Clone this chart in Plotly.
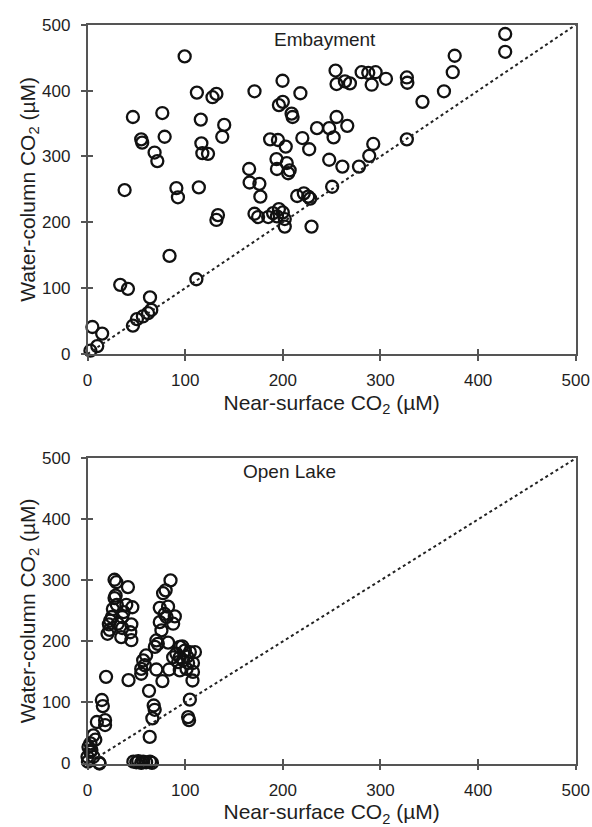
import plotly.graph_objects as go

# ---------------- data ----------------
emb_x = [3, 10, 5, 15, 46.5, 50.6, 56.7, 62, 65.3, 64, 33.5, 41.4, 111.5, 84,
         38, 91, 92.6, 114, 68.7, 71.5, 55, 56, 79, 46.5, 76.6, 99.5, 112, 128,
         132, 116, 116.6, 117.6, 123.4, 140, 138, 133.6, 132, 171, 199.7, 218,
         196, 200, 209, 210, 235, 247.5, 255, 266, 252, 187, 195, 203, 220, 227,
         193.5, 204, 194, 205.5, 207, 165.5, 166, 176, 177, 247.5, 261, 278,
         288.5, 250.5, 214.7, 221.5, 226, 228, 171, 174.7, 185, 190, 196, 200,
         194, 202, 202, 229.4, 254, 255, 263.6, 268.7, 280.7, 287.5, 295, 291,
         305.6, 327, 327.5, 343, 365, 374, 376, 427.7, 427.7, 327, 292.6]
emb_y = [5, 12, 41, 31, 43, 53, 57, 62, 67, 86, 105, 99, 113.5, 149,
         249, 252, 238, 253, 306, 293, 326, 321, 330, 360, 366, 452, 397, 390,
         395, 356, 320, 305, 304, 348, 330, 211, 203.6, 399, 415, 396,
         378, 383, 365, 360, 343, 343, 360, 346.5, 329, 326, 325, 315, 328, 311,
         296, 290, 281, 274.5, 279, 281, 260.5, 258.4, 239, 295, 284.6, 284.6,
         301, 254, 240, 244, 239, 236, 213, 208, 208, 214, 220, 215,
         209, 205, 193.5, 193.5, 430.5, 410, 414, 411, 428, 427, 428, 409,
         418, 420, 412, 383, 399, 428, 453, 486, 459, 326, 319]

open_x = [27.7, 29.5, 41.4, 28.8, 27.7, 26, 39.7, 45.9, 37, 35.6, 23.3, 21.9,
          20.5, 22.6, 44.9, 43.8, 34.6, 44.9, 31, 35.6, 25, 30,
          19, 42, 14.7, 15.7, 9.6, 18, 18, 6, 8, 1, 2.8, 0, 12.3, 6, 0.5, 4, 3,
          47, 50, 52, 55, 57, 60, 64, 66, 12,
          85, 80, 77.4, 74, 82.5, 79, 81, 89.4, 87.7, 74, 75.7, 70.5, 72, 69,
          82.5, 60, 57, 58.6, 55, 55, 70.5, 83.6, 76.7, 63, 67.8, 68.8, 66.4, 63.7,
          94.5, 99.7, 104.8, 110, 91, 94.5, 98, 103, 108, 92.8, 87.7, 101.4, 108,
          94.5, 107.5, 104.8, 103, 104, 97, 102]
open_y = [301, 297, 289, 275, 271, 253, 260, 256, 248, 240, 234, 228,
          212.5, 219, 228, 215, 207, 202, 229, 222, 240, 260,
          142, 136.5, 104, 94, 68, 71, 63, 46, 39, 27, 19, 11, 0, 11, 3, 22, 33,
          3, 2, 4, 1, 3, 2, 3, 1, 1,
          300, 283.7, 279, 255, 257, 245, 240, 241, 229, 231.6, 218, 201.6, 196, 191,
          198, 177, 169, 161, 155, 147, 154, 154, 135, 119, 95, 88, 74, 43.6,
          191, 185, 182.6, 182.6, 180, 174, 169, 164.6, 164.6, 166, 174, 155, 150,
          152.6, 136, 104.6, 76, 71, 192, 175]

one_to_one = [0, 500]
tick_vals = [0, 100, 200, 300, 400, 500]
tick_text = ["0", "100", "200", "300", "400", "500"]
panel_titles = ["Embayment", "Open Lake"]
x_title = "Near-surface CO<sub>2</sub> (µM)"
y_title = "Water-column CO<sub>2</sub> (µM)"

# ---------------- style ----------------
FONT = "Liberation Sans, Arial, sans-serif"
AX_COLOR = "#555555"
TXT_COLOR = "#1e1e1e"
W, H = 592, 827
xdom = [87.5 / W, 575.8 / W]
ydom_top = [1 - 354 / H, 1 - 24.8 / H]
ydom_bot = [1 - 763.5 / H, 1 - 458.3 / H]

marker = dict(symbol="circle-open", size=12, color="#111111", line=dict(width=2.3))

fig = go.Figure()

# 1:1 lines on overlay axes (these overlay axes also draw the inside half of the crossing ticks)
fig.add_trace(go.Scatter(x=one_to_one, y=one_to_one, mode="lines",
                         line=dict(color="#222222", width=2, dash="dot"),
                         xaxis="x3", yaxis="y3", showlegend=False, hoverinfo="skip"))
fig.add_trace(go.Scatter(x=one_to_one, y=one_to_one, mode="lines",
                         line=dict(color="#222222", width=2, dash="dot"),
                         xaxis="x4", yaxis="y4", showlegend=False, hoverinfo="skip"))

fig.add_trace(go.Scatter(x=emb_x, y=emb_y, mode="markers", marker=marker,
                         xaxis="x", yaxis="y", cliponaxis=False, showlegend=False))
fig.add_trace(go.Scatter(x=open_x, y=open_y, mode="markers", marker=marker,
                         xaxis="x2", yaxis="y2", cliponaxis=False, showlegend=False))


def main_x(anchor, dom):
    return dict(domain=dom, anchor=anchor, range=[0, 500], tickvals=tick_vals,
                ticktext=tick_text, ticks="outside", ticklen=5, tickwidth=1.5,
                tickcolor=AX_COLOR, showline=True, linecolor=AX_COLOR, linewidth=1.5,
                mirror=True, showgrid=False, zeroline=False, automargin=False,
                ticklabelstandoff=5,
                tickfont=dict(family=FONT, size=17, color=TXT_COLOR),
                title=dict(text=x_title, standoff=6,
                           font=dict(family=FONT, size=21, color=TXT_COLOR)))


def main_y(anchor, dom):
    return dict(domain=dom, anchor=anchor, range=[0, 500], tickvals=tick_vals,
                ticktext=tick_text, ticks="outside", ticklen=5, tickwidth=1.5,
                tickcolor=AX_COLOR, showline=True, linecolor=AX_COLOR, linewidth=1.5,
                mirror=True, showgrid=False, zeroline=False, automargin=False,
                ticklabelstandoff=7,
                tickfont=dict(family=FONT, size=17, color=TXT_COLOR),
                title=dict(text=y_title, standoff=0,
                           font=dict(family=FONT, size=21, color=TXT_COLOR)))


def over_x(ov, anchor, dom):
    return dict(domain=dom, overlaying=ov, anchor=anchor, range=[0, 500],
                tickvals=tick_vals[1:], ticks="inside", ticklen=5, tickwidth=1.5,
                tickcolor=AX_COLOR, showticklabels=False, showline=False,
                showgrid=False, zeroline=False, automargin=False)


def over_y(ov, anchor, dom):
    return dict(domain=dom, overlaying=ov, anchor=anchor, range=[0, 500],
                tickvals=tick_vals[1:], ticks="inside", ticklen=5, tickwidth=1.5,
                tickcolor=AX_COLOR, showticklabels=False, showline=False,
                showgrid=False, zeroline=False, automargin=False)


fig.update_layout(
    width=W, height=H,
    margin=dict(l=0, r=0, t=0, b=0, autoexpand=False),
    paper_bgcolor="white", plot_bgcolor="white",
    xaxis=main_x("y", xdom), yaxis=main_y("x", ydom_top),
    xaxis2=main_x("y2", xdom), yaxis2=main_y("x2", ydom_bot),
    xaxis3=over_x("x", "y3", xdom), yaxis3=over_y("y", "x3", ydom_top),
    xaxis4=over_x("x2", "y4", xdom), yaxis4=over_y("y2", "x4", ydom_bot),
    annotations=[
        dict(text=panel_titles[0], x=243, y=478, xref="x", yref="y",
             showarrow=False, font=dict(family=FONT, size=19, color=TXT_COLOR)),
        dict(text=panel_titles[1], x=207, y=478, xref="x2", yref="y2",
             showarrow=False, font=dict(family=FONT, size=19, color=TXT_COLOR)),
    ],
)

fig.write_html("out.html")
